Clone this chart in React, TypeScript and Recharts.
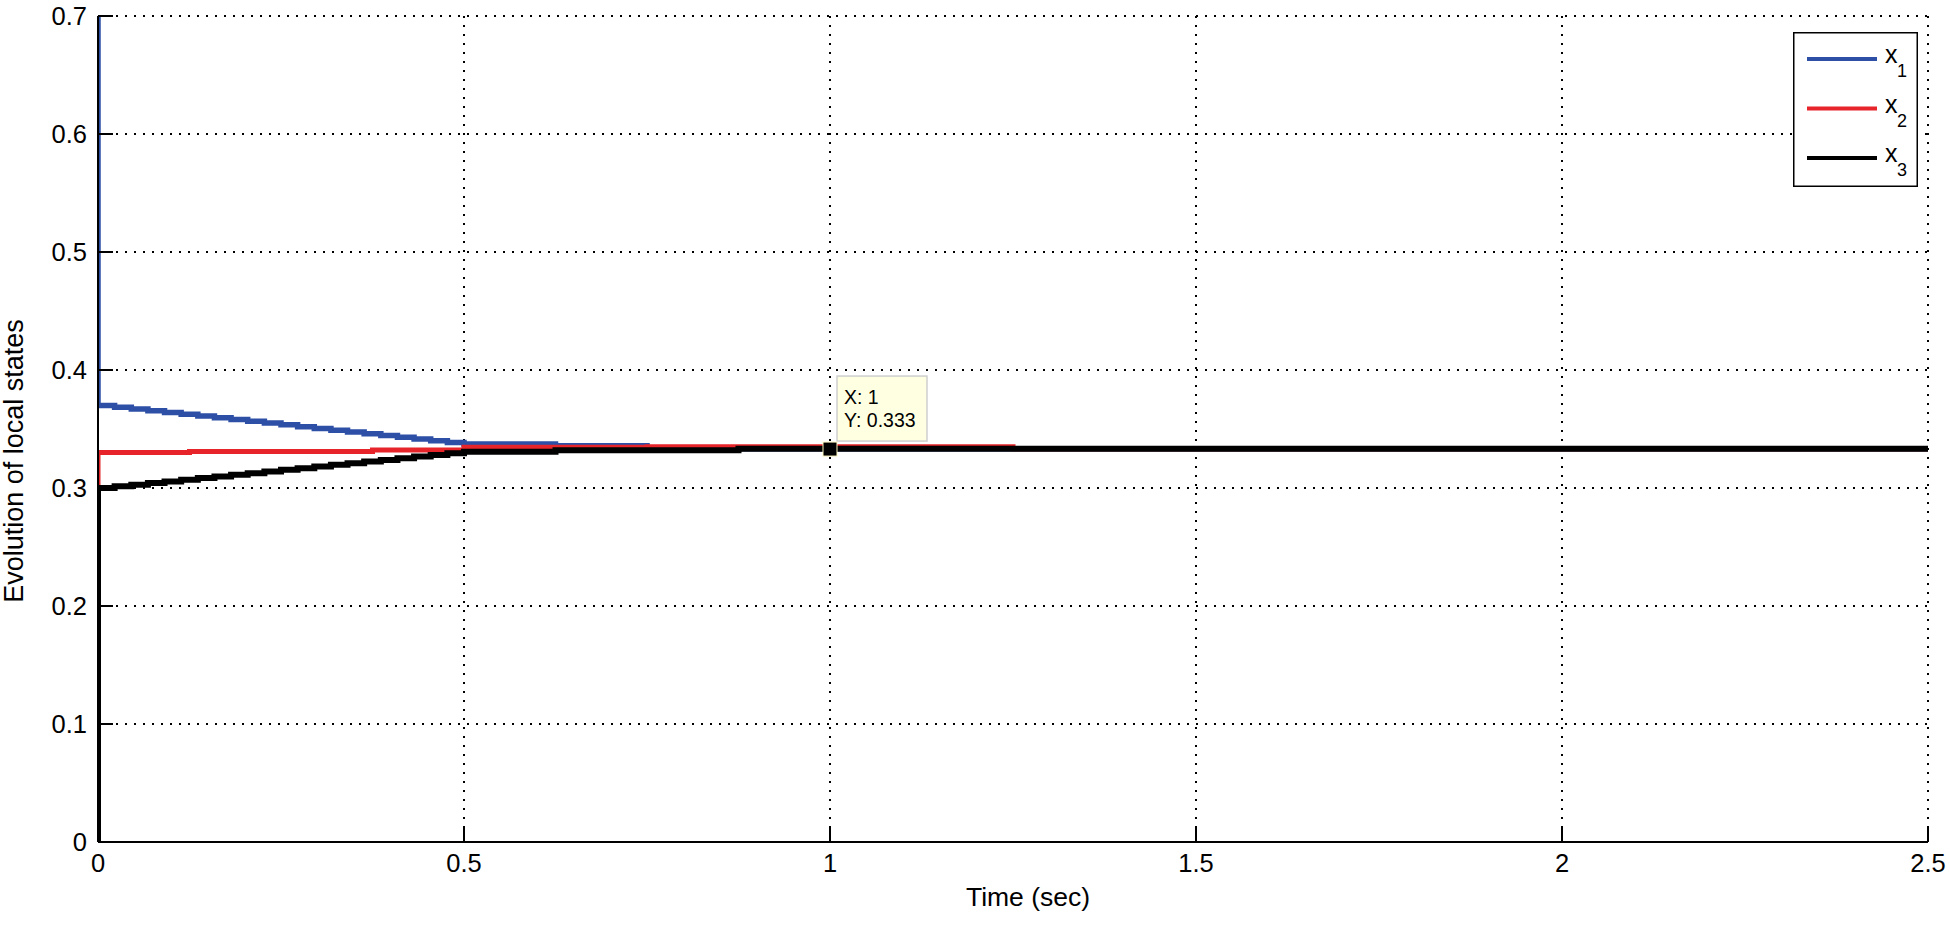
import React from 'react';
import { LineChart, Line, XAxis, YAxis, CartesianGrid, Legend, ReferenceDot } from 'recharts';

// time stamps (sec) and values, step-held between samples
const x1Time = [0, 0, 0.0227, 0.0455, 0.0682, 0.0909, 0.1136, 0.1364, 0.1591, 0.1818, 0.2045, 0.2273, 0.25, 0.2727, 0.2955, 0.3182, 0.3409, 0.3636, 0.3864, 0.4091, 0.4318, 0.4545, 0.4773, 0.5, 0.625, 0.75, 0.875, 2.5];
const x1Values = [0.7, 0.37, 0.3685, 0.367, 0.3655, 0.364, 0.3625, 0.361, 0.3595, 0.358, 0.3565, 0.355, 0.3535, 0.352, 0.3505, 0.349, 0.3475, 0.346, 0.3445, 0.343, 0.3415, 0.34, 0.3385, 0.3372, 0.3358, 0.3342, 0.3333, 0.3333];

const x2Time = [0, 0, 0.125, 0.375, 0.5, 0.75, 1.25, 2.5];
const x2Values = [0.3, 0.33, 0.331, 0.3322, 0.3345, 0.3349, 0.3333, 0.3333];

const x3Time = [0, 0, 0.0227, 0.0455, 0.0682, 0.0909, 0.1136, 0.1364, 0.1591, 0.1818, 0.2045, 0.2273, 0.25, 0.2727, 0.2955, 0.3182, 0.3409, 0.3636, 0.3864, 0.4091, 0.4318, 0.4545, 0.4773, 0.5, 0.625, 0.875, 2.5];
const x3Values = [0, 0.3, 0.3014, 0.3028, 0.3042, 0.3056, 0.307, 0.3084, 0.3098, 0.3112, 0.3126, 0.314, 0.3154, 0.3168, 0.3182, 0.3196, 0.321, 0.3224, 0.3238, 0.3252, 0.3266, 0.328, 0.3294, 0.3308, 0.332, 0.3333, 0.3333];

const xTicks = [0, 0.5, 1, 1.5, 2, 2.5];
const yTicks = [0, 0.1, 0.2, 0.3, 0.4, 0.5, 0.6, 0.7];

const tipX = 1;
const tipY = 0.333;

const font = '"Liberation Sans", Arial, sans-serif';

const toRows = (ts: number[], vs: number[]) => ts.map((t, i) => ({ t, v: vs[i] }));
const x1Data = toRows(x1Time, x1Values);
const x2Data = toRows(x2Time, x2Values);
const x3Data = toRows(x3Time, x3Values);

const LeftTick = (props: any) => {
  const { x, y, payload } = props;
  return (
    <g>
      <line x1={x + 11} x2={x + 26} y1={y} y2={y} stroke="#000" strokeWidth={2} />
      <text x={x} y={y} textAnchor="end" dominantBaseline="central" fontSize={25.5} fill="#000" fontFamily={font}>
        {String(payload.value)}
      </text>
    </g>
  );
};

const BottomTick = (props: any) => {
  const { x, y, payload } = props;
  return (
    <g>
      <line x1={x} x2={x} y1={y - 12} y2={y - 27} stroke="#000" strokeWidth={2} />
      <text x={x} y={y} textAnchor="middle" dominantBaseline="hanging" fontSize={25.5} fill="#000" fontFamily={font}>
        {String(payload.value)}
      </text>
    </g>
  );
};

const RightTick = (props: any) => {
  const { x, y } = props;
  return <line x1={x} x2={x - 10} y1={y} y2={y} stroke="#000" strokeWidth={2} />;
};

const TopTick = (props: any) => {
  const { x, y } = props;
  return <line x1={x} x2={x} y1={y} y2={y + 10} stroke="#000" strokeWidth={2} />;
};

const DataTip = (props: any) => {
  const { cx, cy } = props;
  return (
    <g fontFamily={font}>
      <rect x={cx + 7} y={cy - 73} width={90} height={65} fill="#ffffe1" stroke="#cfcfcf" strokeWidth={1.5} />
      <text x={cx + 14} y={cy - 45} fontSize={19.5} fill="#000">X: {tipX}</text>
      <text x={cx + 14} y={cy - 22} fontSize={19.5} fill="#000">Y: {tipY}</text>
      <rect x={cx - 7} y={cy - 7} width={14} height={14} fill="#000" stroke="#fff8c0" strokeWidth={1} />
    </g>
  );
};

const LegendBox = (props: any) => {
  const items = props.payload || [];
  return (
    <svg width={125} height={155} style={{ display: 'block' }}>
      <rect x={0.75} y={0.75} width={123.5} height={153.5} fill="#fff" stroke="#000" strokeWidth={1.5} />
      {items.map((it: any, i: number) => {
        const y = 27 + i * 49.5;
        const name = String(it.value);
        return (
          <g key={name}>
            <line x1={14} x2={84} y1={y} y2={y} stroke={it.color} strokeWidth={4} />
            <text x={92} y={y + 4} fontSize={25} fontFamily={font} fill="#000">{name.slice(0, 1)}</text>
            <text x={104} y={y + 18} fontSize={18} fontFamily={font} fill="#000">{name.slice(1)}</text>
          </g>
        );
      })}
    </svg>
  );
};

const YLabel = (props: any) => {
  const { viewBox } = props;
  const cy = viewBox.y + viewBox.height / 2 + 32;
  return (
    <text transform={`translate(23, ${cy}) rotate(-90)`} textAnchor="middle" fontSize={27} fontFamily={font} fill="#000">
      Evolution of local states
    </text>
  );
};

const XLabel = (props: any) => {
  const { viewBox } = props;
  const cx = viewBox.x + viewBox.width / 2 + 15;
  return (
    <text x={cx} y={906} textAnchor="middle" fontSize={26.5} fontFamily={font} fill="#000">
      Time (sec)
    </text>
  );
};

export default function App() {
  return (
    <div style={{ position: 'absolute', left: 0, top: 0, background: '#fff' }}>
      <LineChart width={1950} height={932} margin={{ top: 16, right: 22, bottom: 0, left: 0 }} style={{ fontFamily: font }}>
        <CartesianGrid stroke="#000" strokeWidth={2} strokeDasharray="2 7" />
        <XAxis
          dataKey="t"
          type="number"
          domain={[0, 2.5]}
          allowDataOverflow
          ticks={xTicks}
          interval={0}
          height={90}
          tickSize={0}
          tickMargin={12}
          tickLine={false}
          axisLine={{ stroke: '#000', strokeWidth: 2 }}
          tick={<BottomTick />}
          label={{ content: <XLabel /> }}
        />
        <XAxis
          xAxisId="top"
          orientation="top"
          type="number"
          domain={[0, 2.5]}
          ticks={xTicks}
          interval={0}
          height={0}
          tickSize={0}
          tickMargin={0}
          tickLine={false}
          axisLine={{ stroke: '#000', strokeWidth: 2 }}
          tick={<TopTick />}
        />
        <YAxis
          type="number"
          domain={[0, 0.7]}
          allowDataOverflow
          ticks={yTicks}
          interval={0}
          width={98}
          tickSize={0}
          tickMargin={11}
          tickLine={false}
          axisLine={{ stroke: '#000', strokeWidth: 2 }}
          tick={<LeftTick />}
          label={{ content: <YLabel /> }}
        />
        <YAxis
          yAxisId="right"
          orientation="right"
          type="number"
          domain={[0, 0.7]}
          ticks={yTicks}
          interval={0}
          width={0}
          tickSize={0}
          tickMargin={0}
          tickLine={false}
          axisLine={{ stroke: '#000', strokeWidth: 2 }}
          tick={<RightTick />}
        />
        <Line data={x1Data} dataKey="v" name="x1" type="stepAfter" stroke="#2d4fa6" strokeWidth={5.5} dot={false} isAnimationActive={false} />
        <Line data={x2Data} dataKey="v" name="x2" type="stepAfter" stroke="#e62429" strokeWidth={5} dot={false} isAnimationActive={false} />
        <Line data={x3Data} dataKey="v" name="x3" type="stepAfter" stroke="#000" strokeWidth={6} dot={false} isAnimationActive={false} />
        <ReferenceDot x={tipX} y={tipY} r={7} shape={<DataTip />} />
        <Legend
          layout="horizontal"
          verticalAlign="middle"
          align="center"
          wrapperStyle={{ position: 'absolute', left: 1793, top: 32, width: 125, height: 155 }}
          content={<LegendBox />}
        />
      </LineChart>
    </div>
  );
}
